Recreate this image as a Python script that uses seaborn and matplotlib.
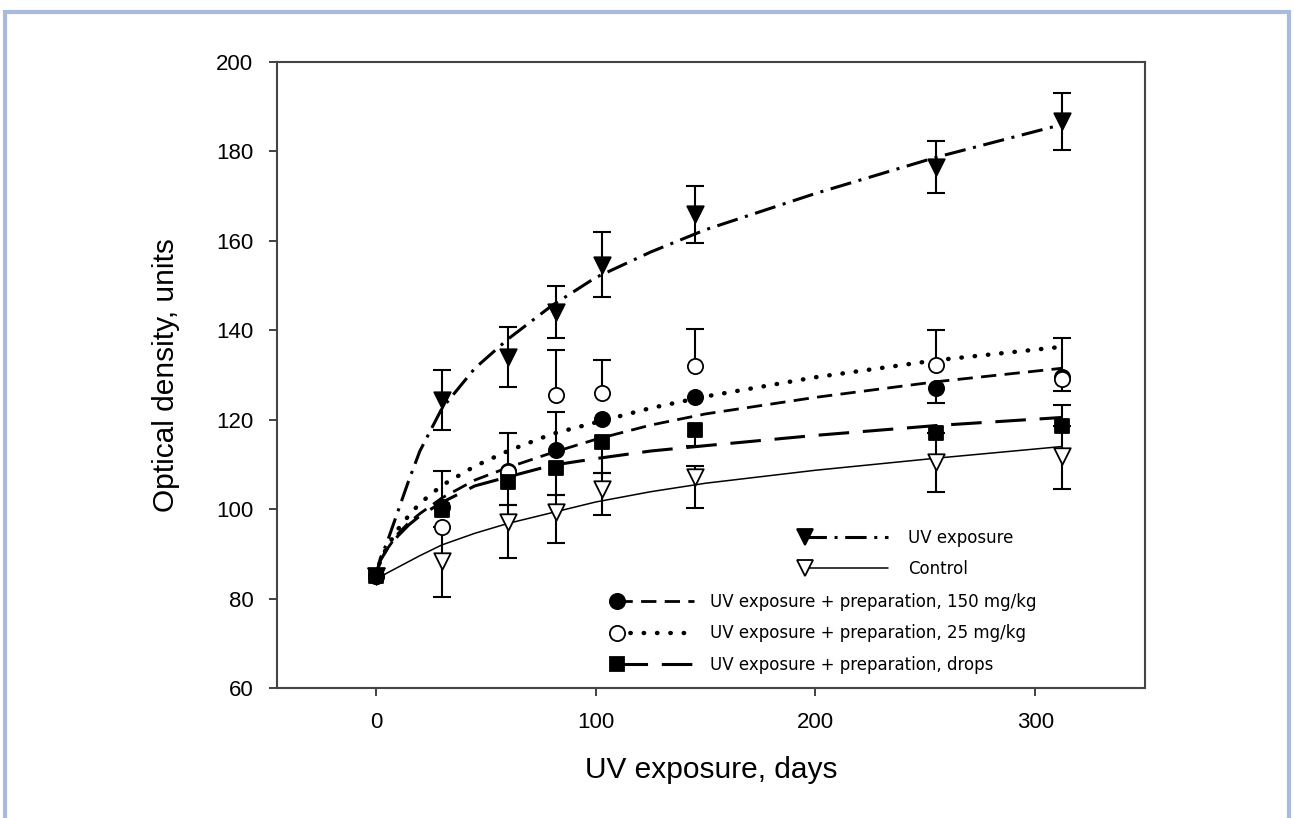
import numpy as np
import matplotlib
matplotlib.use('Agg')
import matplotlib.pyplot as plt
import seaborn as sns
from matplotlib.lines import Line2D
from matplotlib.patches import Rectangle
from matplotlib.legend_handler import HandlerLine2D

# --- data ---
days = [0, 30, 60, 82, 103, 145, 255, 312]

uv = [85, 124.5, 134.1, 144.1, 154.7, 165.9, 176.5, 186.7]
uv_lo = [0, 6.7, 6.7, 5.8, 7.3, 6.4, 5.9, 6.4]
uv_hi = [0, 6.7, 6.7, 5.8, 7.3, 6.4, 5.9, 6.4]
control = [85, 88.4, 97.2, 99.4, 104.6, 107.2, 110.6, 111.9]
control_lo = [0, 8.1, 8.2, 6.9, 5.9, 7.0, 6.7, 7.5]
control_hi = [0, 7.6, 3.7, 3.8, 3.4, 2.4, 6.4, 6.7]
prep150 = [85, 100.5, 108.5, 113.2, 120.2, 125.0, 127.0, 129.5]
prep150_lo = [0, 0, 0, 0, 0, 0, 3.3, 0]
prep150_hi = [0, 0, 0, 8.6, 0, 0, 0, 0]
prep25 = [85, 95.9, 108.2, 125.5, 125.9, 132.1, 132.2, 129.2]
prep25_lo = [0, 0, 0, 0, 0, 0, 0, 2.7]
prep25_hi = [0, 0, 8.8, 10.1, 7.4, 8.3, 7.9, 9.0]
drops = [85, 99.8, 106.1, 109.3, 115.1, 117.8, 117.0, 118.6]
drops_lo = [0, 0, 5.2, 6.1, 7.1, 3.7, 0, 0]
drops_hi = [0, 8.8, 0, 0, 0, 0, 0, 4.7]

# fitted trend curves
curve_days = [0, 2, 5, 10, 15, 20, 30, 45, 60, 80, 100, 125, 150, 200, 255, 312]
uv_fit = [85, 89, 92.5, 99.5, 106.5, 113, 122.5, 131.5, 138, 145.5, 151.8, 157.5, 162.5, 170.6, 178.7, 186]
control_fit = [84.2, 84.8, 85.7, 87, 88.3, 89.6, 92, 94.6, 96.8, 99.2, 101.6, 103.9, 105.8, 108.7, 111.4, 114]
prep150_fit = [85, 88.5, 91, 94.5, 97, 99, 102.5, 106.5, 109.3, 112.6, 115.6, 118.8, 121.3, 125, 128.5, 131.5]
prep25_fit = [85, 88.5, 91.5, 95.5, 98.6, 101.3, 105.3, 109.6, 113, 116.8, 119.4, 122.6, 125.2, 129.5, 133.3, 136.3]
drops_fit = [85, 88.5, 91, 94, 96.5, 98.5, 101.5, 105.2, 107.2, 109.8, 111.3, 113, 114.2, 116.5, 118.7, 120.5]

labels = ['UV exposure', 'Control',
          'UV exposure + preparation, 150 mg/kg',
          'UV exposure + preparation, 25 mg/kg',
          'UV exposure + preparation, drops']

# style per series: marker, face, marker size, line style, line width, capstyle
series = [
    (uv, uv_lo, uv_hi, uv_fit, 'v', 'black', 140, (0, (7, 2.5, 1, 2.5)), 2.2, 'butt'),
    (control, control_lo, control_hi, control_fit, 'v', 'white', 140, '-', 1.1, 'butt'),
    (prep150, prep150_lo, prep150_hi, prep150_fit, 'o', 'black', 120, (0, (5.5, 3)), 2.0, 'butt'),
    (prep25, prep25_lo, prep25_hi, prep25_fit, 'o', 'white', 120, (0, (0.1, 2.9)), 3.2, 'round'),
    (drops, drops_lo, drops_hi, drops_fit, 's', 'black', 110, (0, (10, 4.5)), 2.2, 'butt'),
]
marker_z = [6, 6, 5, 6, 7]

sns.set_style('white')
plt.rcParams['font.family'] = ['Liberation Sans', 'DejaVu Sans']
plt.rcParams['text.color'] = 'black'
plt.rcParams['axes.labelcolor'] = 'black'

fig = plt.figure(figsize=(12.94, 8.18), dpi=100)
ax = fig.add_axes([0.2141, 0.1589, 0.6708, 0.7653])

for (vals, lo, hi, fit, mk, face, ms, ls, lw, cap), z in zip(series, marker_z):
    sns.lineplot(x=curve_days, y=fit, ax=ax, color='black', linewidth=lw,
                 linestyle=ls, dash_capstyle=cap, estimator=None, sort=False, zorder=2)
    vals, lo, hi = np.array(vals), np.array(lo), np.array(hi)
    # error bars: stems plus caps only where a bar shows in the original
    ax.vlines(days, vals - lo, vals + hi, color='black', linewidth=1.5, zorder=3)
    top = np.where(hi > 0, vals + hi, np.nan)
    bot = np.where(lo > 0, vals - lo, np.nan)
    ax.plot(days, top, ls='none', marker='_', markersize=13, mew=1.5, color='black', zorder=3)
    ax.plot(days, bot, ls='none', marker='_', markersize=13, mew=1.5, color='black', zorder=3)
    sns.scatterplot(x=days, y=vals, ax=ax, marker=mk, s=ms, color=face,
                    edgecolor='black', linewidth=1.3, zorder=z)

ax.set_xlim(-45, 350)
ax.set_ylim(60, 200)
ax.set_xticks([0, 100, 200, 300])
ax.set_yticks(np.arange(60, 201, 20))
ax.tick_params(axis='both', which='major', direction='out', length=6, width=1.3,
               colors='#333333', labelcolor='black', labelsize=16, pad=11,
               bottom=True, left=True, top=False, right=False)
for sp in ax.spines.values():
    sp.set_color('#444444')
    sp.set_linewidth(1.5)

ax.set_xlabel('UV exposure, days', fontsize=21.5, labelpad=17)
ax.set_ylabel('Optical density, units', fontsize=21.5, labelpad=26)


# legend handle with the marker on the left end of the line
class MarkerLeft(HandlerLine2D):
    def create_artists(self, *args, **kwargs):
        artists = super().create_artists(*args, **kwargs)
        for a in artists:
            a.set_markevery([0])
        return artists


handles = []
for vals, lo, hi, fit, mk, face, ms, ls, lw, cap in series:
    handles.append(Line2D([], [], color='black', linestyle=ls, linewidth=lw,
                          dash_capstyle=cap, marker=mk, markersize=np.sqrt(ms),
                          markerfacecolor=face, markeredgecolor='black',
                          markeredgewidth=1.3))

leg_font = {'family': 'DejaVu Sans', 'size': 12}
leg1 = ax.legend(handles[:2], labels[:2], loc='upper left',
                 bbox_to_anchor=(805 / 1294, 1 - 529 / 818), bbox_transform=fig.transFigure,
                 frameon=False, prop=leg_font, handlelength=5.0, handletextpad=1.2,
                 labelspacing=0.75, borderpad=0, borderaxespad=0,
                 handler_map={Line2D: MarkerLeft()})
ax.add_artist(leg1)
ax.legend(handles[2:], labels[2:], loc='upper left',
          bbox_to_anchor=(617 / 1294, 1 - 593 / 818), bbox_transform=fig.transFigure,
          frameon=False, prop=leg_font, handlelength=4.6, handletextpad=1.0,
          labelspacing=0.8, borderpad=0, borderaxespad=0,
          handler_map={Line2D: MarkerLeft()})

# light blue page frame round the figure
fig.patches.append(Rectangle((5 / 1294, -0.05), 1284 / 1294, 1.05 - 12 / 818,
                             transform=fig.transFigure, fill=False,
                             edgecolor='#a9bbdd', linewidth=3))

plt.savefig('out.png', dpi=100)
